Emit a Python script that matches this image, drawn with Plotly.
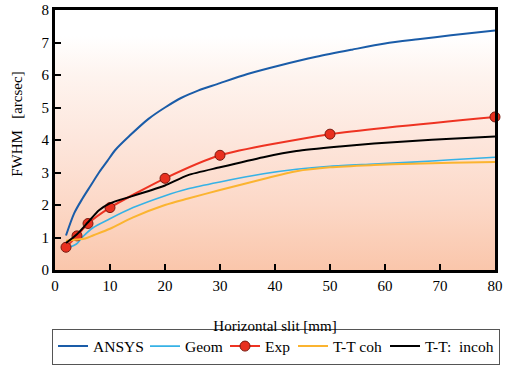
import plotly.graph_objects as go

# Data
ansys_x = [2, 3.5, 5, 6.5, 8, 9.5, 11, 13.5, 17, 20, 23, 26, 29.5, 35, 41, 47.5, 54, 60, 66, 72, 80]
ansys_y = [1.06, 1.75, 2.2, 2.6, 3.0, 3.35, 3.7, 4.12, 4.65, 5.0, 5.3, 5.52, 5.72, 6.03, 6.3, 6.56, 6.78, 6.97, 7.1, 7.22, 7.37]

geom_x = [2.3, 3.9, 5.1, 6.9, 9.9, 14.2, 19.9, 24.2, 30, 37.9, 43.9, 50, 58, 65, 72, 80]
geom_y = [0.68, 0.8, 1.03, 1.3, 1.57, 1.92, 2.28, 2.5, 2.71, 2.96, 3.1, 3.19, 3.26, 3.32, 3.39, 3.47]

exp_x = [2, 4, 6, 10, 20, 30, 50, 80]
exp_y = [0.70, 1.05, 1.43, 1.92, 2.82, 3.53, 4.18, 4.71]

ttcoh_x = [2, 4, 5.5, 7, 10, 14.2, 20, 24.2, 30, 37.9, 43.9, 50, 58, 65, 72, 80]
ttcoh_y = [0.9, 0.94, 0.97, 1.07, 1.27, 1.62, 2.0, 2.2, 2.46, 2.8, 3.04, 3.16, 3.23, 3.27, 3.3, 3.32]

ttinc_x = [2, 4, 6, 8, 10, 13.6, 17.2, 20, 24.2, 30, 37.9, 43.9, 51.8, 58, 65, 72, 80]
ttinc_y = [0.83, 1.1, 1.47, 1.84, 2.05, 2.25, 2.44, 2.6, 2.92, 3.16, 3.47, 3.66, 3.8, 3.89, 3.97, 4.04, 4.11]

x_ticks = [0, 10, 20, 30, 40, 50, 60, 70, 80]
y_ticks = [0, 1, 2, 3, 4, 5, 6, 7, 8]
x_range = [0, 80]
y_range = [0, 8]

FONT = "Liberation Serif"
NB = "\u00a0"

fig = go.Figure()

# gradient background of the plot area
fig.add_trace(go.Scatter(
    x=[x_range[0], x_range[1], x_range[1], x_range[0], x_range[0]],
    y=[y_range[0], y_range[0], y_range[1], y_range[1], y_range[0]],
    mode="lines", line=dict(width=0), fill="toself",
    fillgradient=dict(type="vertical", start=0, stop=8,
                      colorscale=[[0, "#FAC6AB"], [0.25, "#FCD8C7"], [0.5, "#FDE6DC"],
                                  [0.75, "#FEF4EF"], [0.9, "#FFFFFF"], [1, "#FFFFFF"]]),
    hoverinfo="skip", showlegend=False))

fig.add_trace(go.Scatter(x=ansys_x, y=ansys_y, mode="lines", name="ANSYS", legendwidth=47,
                         line=dict(color="#1A5CA8", width=2, shape="spline", smoothing=0.8)))
fig.add_trace(go.Scatter(x=geom_x, y=geom_y, mode="lines", name="Geom", legendwidth=35,
                         line=dict(color="#36B2E6", width=1.6, shape="spline", smoothing=0.8)))
fig.add_trace(go.Scatter(x=exp_x, y=exp_y, mode="lines+markers", name="Exp", legendwidth=23,
                         line=dict(color="#EE3322", width=2, shape="spline", smoothing=0.6),
                         marker=dict(size=10, color="#E8301F", line=dict(color="#7A1A10", width=1)),
                         cliponaxis=False))
fig.add_trace(go.Scatter(x=ttcoh_x, y=ttcoh_y, mode="lines", name="T-T coh", legendwidth=47,
                         line=dict(color="#FBB430", width=2, shape="spline", smoothing=0.8)))
fig.add_trace(go.Scatter(x=ttinc_x, y=ttinc_y, mode="lines", name="T-T:" + NB * 2 + "incoh",
                         line=dict(color="#000000", width=2, shape="spline", smoothing=0.6)))

fig.update_layout(
    width=510, height=374,
    margin=dict(l=55, r=15, t=10, b=102),
    paper_bgcolor="white", plot_bgcolor="white",
    font=dict(family=FONT, size=15, color="black"),
    legend=dict(orientation="h", x=-0.0068, xanchor="left", y=-0.225, yanchor="top",
                bordercolor="#555555", borderwidth=1, font=dict(size=15.5, family=FONT),
                itemwidth=30, tracegroupgap=0),
    annotations=[dict(text="FWHM" + NB * 3 + "[arcsec]", xref="paper", yref="paper",
                      x=-0.085, y=0.561, xanchor="center", yanchor="middle",
                      textangle=-90, showarrow=False, font=dict(size=15, family=FONT))],
)
fig.update_xaxes(range=x_range, tickvals=x_ticks,
                 ticks="inside", ticklen=6, tickwidth=1.5, tickcolor="black",
                 showline=True, linecolor="black", linewidth=3, mirror=True,
                 showgrid=False, zeroline=False, automargin=False,
                 title=dict(text="Horizontal slit [mm]", standoff=28, font=dict(size=15)))
fig.update_yaxes(range=y_range, tickvals=y_ticks,
                 ticks="inside", ticklen=6, tickwidth=1.5, tickcolor="black",
                 showline=True, linecolor="black", linewidth=3, mirror=True,
                 showgrid=False, zeroline=False, automargin=False)

fig.write_html("out.html", post_script="document.body.style.margin='0';",
               config={"displayModeBar": False})
